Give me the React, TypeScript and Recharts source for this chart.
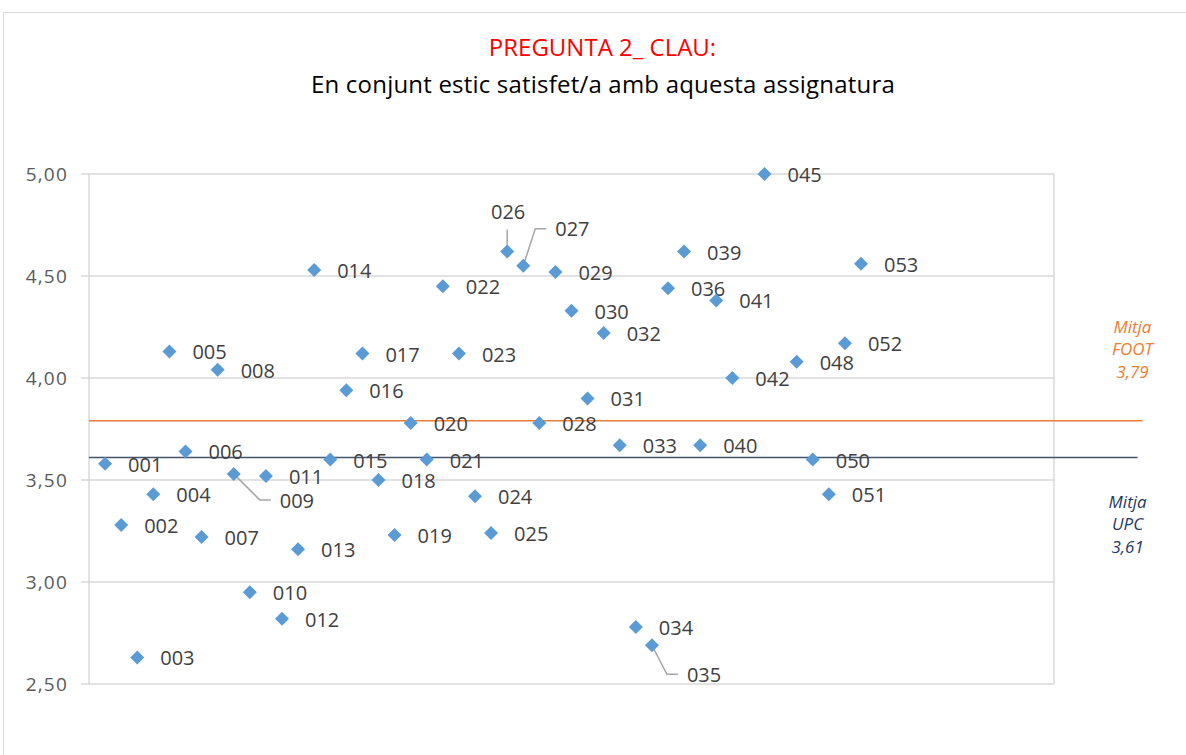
import { ScatterChart, Scatter, XAxis, YAxis, CartesianGrid, ReferenceLine } from 'recharts'

// slot order on the x axis; null = empty slot
const codes = [
	'001', '002', '003', '004', '005', '006', '007', '008', '009', '010',
	'011', '012', '013', '014', '015', '016', '017', '018', '019', '020',
	'021', '022', '023', '024', '025', '026', '027', '028', '029', '030',
	'031', '032', '033', '034', '035', '036', '039', '040', '041', '042',
	null, '045', null, '048', '050', '051', '052', '053',
]
const scores = [
	3.58, 3.28, 2.63, 3.43, 4.13, 3.64, 3.22, 4.04, 3.53, 2.95,
	3.52, 2.82, 3.16, 4.53, 3.6, 3.94, 4.12, 3.5, 3.23, 3.78,
	3.6, 4.45, 4.12, 3.42, 3.24, 4.62, 4.55, 3.78, 4.52, 4.33,
	3.9, 4.22, 3.67, 2.78, 2.69, 4.44, 4.62, 3.67, 4.38, 4.0,
	null, 5.0, null, 4.08, 3.6, 3.43, 4.17, 4.56,
]
const yTicks = [2.5, 3, 3.5, 4, 4.5, 5]
const xTicks = [0, 10, 20, 30, 40, 50, 60]
const meanFoot = 3.79
const meanUpc = 3.61

const points = codes
	.map((code, i) => ({ x: i + 1, y: scores[i], code }))
	.filter((p) => p.code !== null && p.y !== null)

// labels that Excel moved away from their marker (offsets in px, leader points)
const movedLabels: Record<string, { dx: number; dy: number; anchor?: string; leader: number[][] }> = {
	'009': { dx: 46, dy: 27, leader: [[0, 0], [26, 26], [37, 26]] },
	'026': { dx: 1, dy: -40, anchor: 'middle', leader: [[0, 0], [0, -22]] },
	'027': { dx: 32, dy: -37, leader: [[0, 0], [12, -37], [23, -37]] },
	'035': { dx: 35, dy: 30, leader: [[0, 0], [15, 29], [26, 29]] },
}

const fmt = (v: number) => v.toFixed(2).replace('.', ',')

const PointShape = (props: any) => {
	const { cx, cy, payload } = props
	const m = movedLabels[payload.code]
	const r = 7
	return (
		<g>
			{m && (
				<polyline
					points={m.leader.map(([a, b]) => `${cx + a},${cy + b}`).join(' ')}
					fill="none"
					stroke="#a6a6a6"
					strokeWidth={1.5}
				/>
			)}
			<polygon points={`${cx},${cy - r} ${cx + r},${cy} ${cx},${cy + r} ${cx - r},${cy}`} fill="#5b9bd5" />
			<text
				x={cx + (m ? m.dx : 23)}
				y={cy + (m ? m.dy : 1)}
				dy="0.35em"
				textAnchor={m && m.anchor ? m.anchor : 'start'}
				fontSize={20}
				fill="#404040"
				fontFamily='"Open Sans", sans-serif'
			>
				{payload.code}
			</text>
		</g>
	)
}

const MeanLabel = ({ viewBox, lines, color, offsetY }: any) => {
	const cx = viewBox.x + viewBox.width - 10
	return (
		<text fontSize={17} fontStyle="italic" fill={color} textAnchor="middle" fontFamily='"Open Sans", sans-serif'>
			{lines.map((t: string, i: number) => (
				<tspan key={i} x={cx} y={viewBox.y + offsetY + i * 22.5} dy="0.35em">
					{t}
				</tspan>
			))}
		</text>
	)
}

const App = () => {
	return (
		<div
			style={{
				position: 'absolute',
				left: 0,
				top: 0,
				width: 1186,
				height: 755,
				overflow: 'hidden',
				background: '#fff',
				fontFamily: '"Open Sans", sans-serif',
			}}
		>
			<div
				style={{
					position: 'absolute',
					left: 3,
					top: 12,
					width: 1300,
					height: 900,
					borderTop: '1.5px solid #d9d9d9',
					borderLeft: '1.5px solid #d9d9d9',
				}}
			/>
			<div style={{ position: 'absolute', left: 0, top: 32, width: 1205, textAlign: 'center', fontSize: 24, lineHeight: '30px', color: '#ff0000' }}>
				PREGUNTA 2_ CLAU:
			</div>
			<div
				style={{
					position: 'absolute',
					left: 0,
					top: 69,
					width: 1206,
					textAlign: 'center',
					fontSize: 24,
					letterSpacing: 0.2,
					lineHeight: '30px',
					color: '#000',
				}}
			>
				En conjunt estic satisfet/a amb aquesta assignatura
			</div>
			<ScatterChart
				width={1186}
				height={755}
				margin={{ top: 174, right: 132, bottom: 71, left: 9 }}
				style={{ position: 'absolute', left: 0, top: 0 }}
			>
				<CartesianGrid stroke="#d9d9d9" strokeWidth={1.5} />
				<XAxis
					type="number"
					dataKey="x"
					domain={[0, 60]}
					ticks={xTicks}
					tick={false}
					tickLine={false}
					axisLine={{ stroke: '#d9d9d9', strokeWidth: 1.5 }}
					height={0}
				/>
				<YAxis
					type="number"
					dataKey="y"
					domain={[2.5, 5]}
					ticks={yTicks}
					tickFormatter={fmt}
					width={80}
					tickSize={8}
					tickMargin={13}
					tickLine={{ stroke: '#d9d9d9', strokeWidth: 1.5 }}
					axisLine={false}
					tick={{ fill: '#595959', fontSize: 19, letterSpacing: 1.2 }}
				/>
				<ReferenceLine
					segment={[{ x: 0, y: meanFoot }, { x: 65.5, y: meanFoot }]}
					ifOverflow="visible"
					stroke="#ed7d31"
					strokeWidth={1.5}
					label={{ content: (p: any) => <MeanLabel {...p} lines={['Mitja', 'FOOT', fmt(meanFoot)]} color="#ed7d31" offsetY={-94} /> }}
				/>
				<ReferenceLine
					segment={[{ x: 0, y: meanUpc }, { x: 65.2, y: meanUpc }]}
					ifOverflow="visible"
					stroke="#44546a"
					strokeWidth={1.5}
					label={{ content: (p: any) => <MeanLabel {...p} lines={['Mitja', 'UPC', fmt(meanUpc)]} color="#1f3864" offsetY={44} /> }}
				/>
				<Scatter data={points} shape={PointShape} isAnimationActive={false} />
			</ScatterChart>
		</div>
	)
}

export default App
